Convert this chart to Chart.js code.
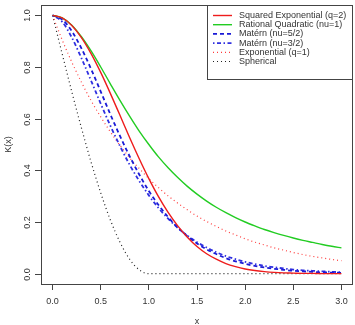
<!DOCTYPE html>
<html>
<head>
<meta charset="utf-8">
<script src="https://cdn.jsdelivr.net/npm/chart.js@4.4.1/dist/chart.umd.min.js"></script>
<style>
  html, body { margin: 0; padding: 0; background: #fff; }
  #wrap { width: 355px; height: 325px; }
</style>
</head>
<body>
<div id="wrap"><canvas id="myChart" width="355" height="325"></canvas></div>
<script>
var xs = [0.0,0.1,0.2,0.3,0.4,0.5,0.6,0.7,0.8,0.9,1.0,1.1,1.2,1.3,1.4,1.5,1.6,1.7,1.8,1.9,2.0,2.1,2.2,2.3,2.4,2.5,2.6,2.7,2.8,2.9,3.0];

var sqExp   = [1,0.990,0.961,0.914,0.852,0.779,0.698,0.613,0.527,0.445,0.368,0.298,0.237,0.185,0.141,0.105,0.077,0.056,0.039,0.027,0.018,0.012,0.008,0.005,0.003,0.002,0.001,0.001,0.000,0.000,0.000];
var ratQuad = [1,0.990,0.962,0.917,0.862,0.800,0.735,0.671,0.610,0.552,0.500,0.452,0.410,0.372,0.338,0.308,0.281,0.257,0.236,0.217,0.200,0.185,0.171,0.159,0.148,0.138,0.129,0.121,0.113,0.106,0.100];
var matern52 = [1,0.984,0.939,0.872,0.792,0.705,0.617,0.533,0.455,0.384,0.320,0.266,0.219,0.179,0.145,0.117,0.094,0.076,0.060,0.048,0.038,0.030,0.024,0.019,0.015,0.011,0.009,0.007,0.005,0.004,0.003];
var matern32 = [1,0.975,0.914,0.834,0.747,0.658,0.573,0.494,0.422,0.359,0.303,0.254,0.213,0.177,0.147,0.122,0.101,0.083,0.068,0.056,0.046,0.037,0.030,0.025,0.020,0.016,0.013,0.011,0.009,0.007,0.006];
var expo    = [1,0.905,0.819,0.741,0.670,0.607,0.549,0.497,0.449,0.407,0.368,0.333,0.301,0.273,0.247,0.223,0.202,0.183,0.165,0.150,0.135,0.122,0.111,0.100,0.091,0.082,0.074,0.067,0.061,0.055,0.050];
var spherical = [1,0.851,0.704,0.564,0.432,0.313,0.208,0.122,0.056,0.015,0,0,0,0,0,0,0,0,0,0,0,0,0,0,0,0,0,0,0,0,0];

var seriesNames = ["Squared Exponential (q=2)", "Rational Quadratic (nu=1)", "Matérn (nu=5/2)", "Matérn (nu=3/2)", "Exponential (q=1)", "Spherical"];
var xTicks = [0, 0.5, 1, 1.5, 2, 2.5, 3];
var yTicks = [0, 0.2, 0.4, 0.6, 0.8, 1.0];

function pts(vals) {
  return xs.map(function (x, i) { return {x: x, y: vals[i]}; });
}

var FONT = "'Liberation Sans', Arial, sans-serif";

// box around plot, y ticks with rotated labels, and the legend, R style
var rStyle = {
  id: 'rStyle',
  afterDatasetsDraw: function (chart) {
    var ctx = chart.ctx, a = chart.chartArea, ys = chart.scales.y;
    ctx.save();
    ctx.strokeStyle = '#444';
    ctx.lineWidth = 1;
    ctx.strokeRect(Math.round(a.left) + 0.5, Math.round(a.top) + 0.5,
                   Math.round(a.right - a.left) - 1, Math.round(a.bottom - a.top));

    ctx.fillStyle = '#333';
    ctx.font = '9px ' + FONT;
    ctx.textAlign = 'center';
    ctx.textBaseline = 'middle';
    yTicks.forEach(function (v) {
      var py = Math.round(ys.getPixelForValue(v)) + 0.5;
      ctx.beginPath();
      ctx.moveTo(Math.round(a.left) - 6, py);
      ctx.lineTo(Math.round(a.left), py);
      ctx.stroke();
      ctx.save();
      ctx.translate(28, py);
      ctx.rotate(-Math.PI / 2);
      ctx.fillText(v.toFixed(1), 0, 0);
      ctx.restore();
    });

    // legend
    var lx = 207, ly = 5, lw = Math.round(a.right) - 207, lh = 74;
    ctx.fillStyle = '#fff';
    ctx.fillRect(lx, ly, lw, lh);
    ctx.strokeStyle = '#444';
    ctx.strokeRect(lx + 0.5, ly + 0.5, lw - 1, lh);
    chart.data.datasets.forEach(function (ds, i) {
      var yy = 15.5 + i * 9.2;
      ctx.save();
      ctx.strokeStyle = ds.borderColor;
      ctx.lineWidth = ds.borderWidth;
      ctx.setLineDash(ds.borderDash || []);
      ctx.beginPath();
      ctx.moveTo(213, yy);
      ctx.lineTo(232, yy);
      ctx.stroke();
      ctx.restore();
      ctx.fillStyle = '#333';
      ctx.font = '9px ' + FONT;
      ctx.textAlign = 'left';
      ctx.textBaseline = 'middle';
      ctx.fillText(ds.label, 239, yy);
    });
    ctx.restore();
  }
};

new Chart(document.getElementById("myChart"), {
  type: 'line',
  data: {
    datasets: [
      { label: seriesNames[0], data: pts(sqExp), borderColor: '#ee1c1c', borderWidth: 1.4 },
      { label: seriesNames[1], data: pts(ratQuad), borderColor: '#22cc22', borderWidth: 1.4 },
      { label: seriesNames[2], data: pts(matern52), borderColor: '#1a1ad6', borderWidth: 1.8, borderDash: [4, 3] },
      { label: seriesNames[3], data: pts(matern32), borderColor: '#3030e0', borderWidth: 1.8, borderDash: [1.5, 2.5, 4, 2.5] },
      { label: seriesNames[4], data: pts(expo), borderColor: '#ff3b3b', borderWidth: 1.2, borderDash: [1, 3] },
      { label: seriesNames[5], data: pts(spherical), borderColor: '#222', borderWidth: 1.2, borderDash: [1, 3] }
    ]
  },
  options: {
    responsive: false,
    animation: false,
    events: [],
    layout: { padding: { top: 5, right: 2, left: 0, bottom: 0 } },
    elements: { point: { radius: 0 }, line: { cubicInterpolationMode: 'monotone', fill: false } },
    plugins: { legend: { display: false }, tooltip: { enabled: false } },
    scales: {
      x: {
        type: 'linear', min: -0.12, max: 3.12,
        afterBuildTicks: function (s) { s.ticks = xTicks.map(function (v) { return {value: v}; }); },
        afterFit: function (s) { s.height = 41; },
        grid: { drawOnChartArea: false, drawTicks: true, tickLength: 6, color: '#444' },
        border: { display: false },
        ticks: { color: '#333', font: { family: FONT, size: 9 }, padding: 6, maxRotation: 0,
                 callback: function (v) { return v.toFixed(1); } },
        title: { display: true, text: 'x', color: '#333', font: { family: FONT, size: 9 }, padding: { top: 0, bottom: -2 } }
      },
      y: {
        type: 'linear', min: -0.04, max: 1.04,
        afterBuildTicks: function (s) { s.ticks = yTicks.map(function (v) { return {value: v}; }); },
        afterFit: function (s) { s.width = 41; },
        grid: { display: false },
        border: { display: false },
        ticks: { display: false },
        title: { display: true, text: 'K(x)', color: '#333', font: { family: FONT, size: 9 }, padding: { top: 3, bottom: 0 } }
      }
    }
  },
  plugins: [rStyle]
});
</script>
</body>
</html>
